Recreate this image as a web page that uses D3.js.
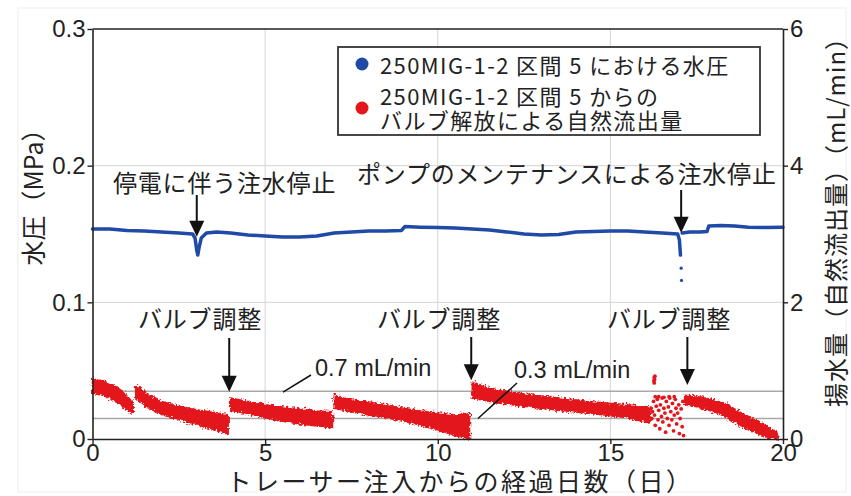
<!DOCTYPE html>
<html><head><meta charset="utf-8">
<script src="https://cdn.jsdelivr.net/npm/d3@7"></script>
<style>body{margin:0;background:#fff}svg{display:block}</style>
</head><body>
<svg id="c" width="851" height="496"></svg>
<script>
// ---------- data ----------
const xTicks = [0, 5, 10, 15, 20];
const yLeftTicks = [0, 0.1, 0.2, 0.3];
const yRightTicks = [0, 2, 4, 6];
const refFlows = [0.7, 0.3];

// water pressure (MPa), null = gap
const pressDays = [0,0.5,1,1.5,2,2.5,2.9,2.97,3.02,3.05,3.09,3.15,3.3,3.6,4,4.5,5,5.5,6,6.5,7,7.5,8,8.5,8.95,9.05,9.5,10,10.5,11,11.5,12,12.5,13,13.5,14,14.5,15,15.5,16,16.5,16.95,17.0,17.03,17.05,17.08,17.3,17.6,17.8,17.85,18.2,18.6,19,19.5,20];
const pressVals = [0.1537,0.1537,0.1526,0.1522,0.1515,0.1507,0.150,0.147,0.138,0.1346,0.1405,0.147,0.1507,0.1515,0.1507,0.1493,0.1485,0.1478,0.1478,0.1485,0.1507,0.1515,0.1522,0.1522,0.1526,0.1555,0.155,0.1547,0.1544,0.1537,0.153,0.1515,0.150,0.1493,0.1496,0.1515,0.1518,0.1522,0.1522,0.1515,0.1507,0.150,0.1456,0.1346,null,0.1507,0.1515,0.1515,0.1518,0.1558,0.1562,0.1558,0.155,0.1547,0.155];
const pressDotDays = [17.05, 17.06];
const pressDotVals = [0.125, 0.116];

// outflow band segments (mL/min): day, low, high
const flowSegA = [[0,0.67,0.88],[0.3,0.64,0.85],[0.6,0.57,0.79],[0.9,0.47,0.69],[1.05,0.40,0.60],[1.18,0.38,0.54]];
const flowSegB = [[1.25,0.60,0.79],[1.6,0.46,0.65],[2.0,0.36,0.55],[2.5,0.29,0.48],[3.0,0.21,0.43],[3.5,0.14,0.39],[3.93,0.07,0.35]];
const flowSegC = [[4.0,0.42,0.60],[4.5,0.37,0.55],[5.0,0.31,0.50],[5.5,0.26,0.47],[6.0,0.22,0.44],[6.5,0.19,0.41],[6.95,0.16,0.40]];
const flowSegD = [[7.0,0.45,0.64],[7.5,0.40,0.57],[8.0,0.35,0.54],[8.5,0.31,0.50],[9.0,0.26,0.45],[9.5,0.20,0.41],[10.0,0.13,0.38],[10.5,0.05,0.35],[10.92,0.0,0.37]];
const flowSegE = [[11.0,0.60,0.83],[11.3,0.57,0.78],[11.7,0.53,0.72],[12.5,0.48,0.66],[13.5,0.42,0.60],[14.5,0.37,0.54],[15.5,0.31,0.50],[16.15,0.23,0.47]];
const flowSegF = [[17.15,0.50,0.64],[17.5,0.47,0.63],[18.0,0.40,0.57],[18.4,0.31,0.50],[18.8,0.18,0.38],[19.2,0.09,0.28],[19.5,0.03,0.19],[19.85,0.0,0.10]];
const flowScatDays = [16.18,16.2,16.22,16.25,16.28,16.3,16.33,16.36,16.38,16.4,16.43,16.45,16.48,16.5,16.52,16.55,16.58,16.6,16.62,16.65,16.68,16.7,16.72,16.75,16.78,16.8,16.83,16.85,16.88,16.9,16.92,16.95,16.98,17.0,17.02,17.05,17.08,17.1,17.12,16.3,16.4,16.55,16.7,16.85,16.26,16.27,16.28,16.27,16.29];
const flowScatVals = [0.45,0.30,0.40,0.55,0.35,0.20,0.48,0.58,0.28,0.42,0.15,0.50,0.33,0.60,0.25,0.45,0.38,0.10,0.55,0.30,0.47,0.20,0.60,0.40,0.28,0.52,0.12,0.35,0.58,0.45,0.22,0.38,0.50,0.08,0.30,0.44,0.18,0.55,0.05,0.62,0.62,0.61,0.62,0.62,0.85,0.90,0.87,0.82,0.92];

const legendLabels = ["250MIG-1-2 区間 5 における水圧", "250MIG-1-2 区間 5 からの", "バルブ解放による自然流出量"];

// ---------- drawing ----------
const svg = d3.select("#c");
const x = d3.scaleLinear().domain([0, 20]).range([92.5, 783]);
const yL = d3.scaleLinear().domain([0, 0.3]).range([439, 29]);
const yR = d3.scaleLinear().domain([0, 6]).range([439, 29]);
const BLUE = "#1f4aa6", RED = "#e3161c", INK = "#222";
const JP = "'Noto Sans CJK JP', sans-serif";
const LAT = "'Liberation Sans', Arial, sans-serif";

// rough-edge texture for the dense scatter band
const defs = svg.append("defs");
const f = defs.append("filter").attr("id", "rough").attr("x", "-5%").attr("y", "-20%").attr("width", "110%").attr("height", "140%");
f.append("feTurbulence").attr("type", "fractalNoise").attr("baseFrequency", 0.45).attr("numOctaves", 2).attr("seed", 3).attr("result", "n");
f.append("feDisplacementMap").attr("in", "SourceGraphic").attr("in2", "n").attr("scale", 6).attr("xChannelSelector", "R").attr("yChannelSelector", "G");

svg.append("rect").attr("x", 18).attr("y", 8).attr("width", 828).attr("height", 484)
  .attr("fill", "none").attr("stroke", "#eeeeee");

// grid
svg.append("g").selectAll("line").data(xTicks.slice(1, -1)).join("line")
  .attr("x1", d => x(d)).attr("x2", d => x(d)).attr("y1", yL(0)).attr("y2", yL(0.3))
  .attr("stroke", "#d4d4d4").attr("stroke-width", 1);
svg.append("g").selectAll("line").data(yLeftTicks.slice(1, -1)).join("line")
  .attr("x1", x(0)).attr("x2", x(20)).attr("y1", d => yL(d)).attr("y2", d => yL(d))
  .attr("stroke", "#d4d4d4").attr("stroke-width", 1);
svg.append("g").selectAll("line").data(refFlows).join("line")
  .attr("x1", x(0)).attr("x2", x(20)).attr("y1", d => yR(d)).attr("y2", d => yR(d))
  .attr("stroke", "#a8a8a8").attr("stroke-width", 1.5);

// red band
const area = d3.area().x(d => x(d[0])).y0(d => yR(d[1])).y1(d => yR(d[2]));
svg.append("g").attr("filter", "url(#rough)").selectAll("path")
  .data([flowSegA, flowSegB, flowSegC, flowSegD, flowSegE, flowSegF]).join("path")
  .attr("d", area).attr("fill", RED).attr("stroke", RED).attr("stroke-width", 1.5).attr("stroke-linejoin", "round");
svg.append("g").selectAll("circle").data(flowScatDays).join("circle")
  .attr("cx", d => x(d)).attr("cy", (d, i) => yR(flowScatVals[i])).attr("r", 1.9).attr("fill", RED);

// blue line
const pts = pressDays.map((d, i) => [d, pressVals[i]]);
const line = d3.line().defined(d => d[1] !== null).x(d => x(d[0])).y(d => yL(d[1]));
svg.append("path").datum(pts).attr("d", line).attr("fill", "none").attr("stroke", BLUE)
  .attr("stroke-width", 3.5).attr("stroke-linejoin", "round").attr("stroke-linecap", "round");
svg.append("g").selectAll("circle").data(pressDotDays).join("circle")
  .attr("cx", d => x(d)).attr("cy", (d, i) => yL(pressDotVals[i])).attr("r", 1.6).attr("fill", BLUE);

// axes
function styleAxis(g) {
  g.selectAll("path").attr("stroke", INK).attr("stroke-width", 1.6);
  g.selectAll("line").attr("stroke", INK).attr("stroke-width", 1.4);
  g.selectAll("text").attr("font-family", LAT).attr("font-size", 24).attr("fill", INK);
}
svg.append("g").attr("transform", `translate(${x(0)},0)`)
  .call(d3.axisLeft(yL).tickValues(yLeftTicks).tickSize(5).tickSizeOuter(0).tickPadding(2)
    .tickFormat(d => d === 0 ? "0" : d3.format(".1f")(d))).call(styleAxis);
svg.append("g").attr("transform", `translate(${x(20)},0)`)
  .call(d3.axisRight(yR).tickValues(yRightTicks).tickSize(5).tickSizeOuter(0).tickPadding(2)
    .tickFormat(d3.format("d"))).call(styleAxis);
svg.append("g").attr("transform", `translate(0,${yL(0)})`)
  .call(d3.axisBottom(x).tickValues(xTicks).tickSize(5).tickSizeOuter(0).tickPadding(0)
    .tickFormat(d3.format("d"))).call(styleAxis);
svg.append("line").attr("x1", x(0)).attr("x2", x(20)).attr("y1", yL(0.3)).attr("y2", yL(0.3))
  .attr("stroke", INK).attr("stroke-width", 1.6);

// axis titles
svg.append("text").attr("transform", `translate(32,191) rotate(-90)`)
  .attr("text-anchor", "middle").attr("dominant-baseline", "central")
  .attr("font-family", JP).attr("font-size", 25).attr("fill", INK).text("水圧（MPa）");
svg.append("text").attr("transform", `translate(834,216) rotate(-90)`)
  .attr("text-anchor", "middle").attr("dominant-baseline", "central")
  .attr("font-family", JP).attr("font-size", 24).attr("letter-spacing", 1).attr("fill", INK).text("揚水量（自然流出量）（mL/min）");
svg.append("text").attr("x", 460).attr("y", 480)
  .attr("text-anchor", "middle").attr("dominant-baseline", "central")
  .attr("font-family", JP).attr("font-size", 25).attr("letter-spacing", 2.5).attr("fill", INK).text("トレーサー注入からの経過日数（日）");

// annotations
function arrow(xp, y1, y2) {
  const g = svg.append("g");
  g.append("line").attr("x1", xp).attr("x2", xp).attr("y1", y1).attr("y2", y2 - 12)
    .attr("stroke", "#111").attr("stroke-width", 2);
  g.append("path").attr("d", `M${xp - 7.5},${y2 - 16} L${xp + 7.5},${y2 - 16} L${xp},${y2} Z`).attr("fill", "#111");
}
function note(t, xp, yp, anchor) {
  svg.append("text").attr("x", xp).attr("y", yp).attr("text-anchor", anchor || "start")
    .attr("dominant-baseline", "central").attr("font-family", JP).attr("font-size", 24)
    .attr("letter-spacing", 0.8).attr("fill", INK).text(t);
}
note("停電に伴う注水停止", 113, 181);
arrow(x(3.02), 195, yL(0.148));
note("ポンプのメンテナンスによる注水停止", 357, 172);
arrow(x(17.05), 190, yL(0.151));
note("バルブ調整", 200, 317, "middle");
arrow(x(3.96), 338, yR(0.69));
note("バルブ調整", 439, 317, "middle");
arrow(x(10.97), 337, yR(0.86));
note("バルブ調整", 669, 317, "middle");
arrow(x(17.23), 337, yR(0.79));

// flow labels
svg.append("line").attr("x1", 283).attr("y1", yR(0.7) + 1).attr("x2", 311).attr("y2", 375)
  .attr("stroke", "#111").attr("stroke-width", 1.5);
svg.append("text").attr("x", 315).attr("y", 368).attr("dominant-baseline", "central")
  .attr("font-family", LAT).attr("font-size", 23.5).attr("fill", INK).text("0.7 mL/min");
svg.append("line").attr("x1", 478).attr("y1", yR(0.3)).attr("x2", 517).attr("y2", 383)
  .attr("stroke", "#111").attr("stroke-width", 1.5);
svg.append("text").attr("x", 514).attr("y", 370).attr("dominant-baseline", "central")
  .attr("font-family", LAT).attr("font-size", 23.5).attr("fill", INK).text("0.3 mL/min");

// legend
const lg = svg.append("g");
lg.append("rect").attr("x", 338).attr("y", 47).attr("width", 422).attr("height", 88)
  .attr("fill", "#fff").attr("stroke", "#333").attr("stroke-width", 1.8);
lg.append("circle").attr("cx", 362).attr("cy", 64).attr("r", 6.5).attr("fill", BLUE);
lg.append("circle").attr("cx", 362).attr("cy", 108).attr("r", 6.5).attr("fill", RED);
lg.selectAll("text").data(legendLabels).join("text")
  .attr("x", 380).attr("y", (d, i) => [64, 95, 119][i]).attr("dominant-baseline", "central")
  .attr("font-family", JP).attr("font-size", 22).attr("letter-spacing", 1.4).attr("fill", INK).text(d => d);
</script>
</body></html>
